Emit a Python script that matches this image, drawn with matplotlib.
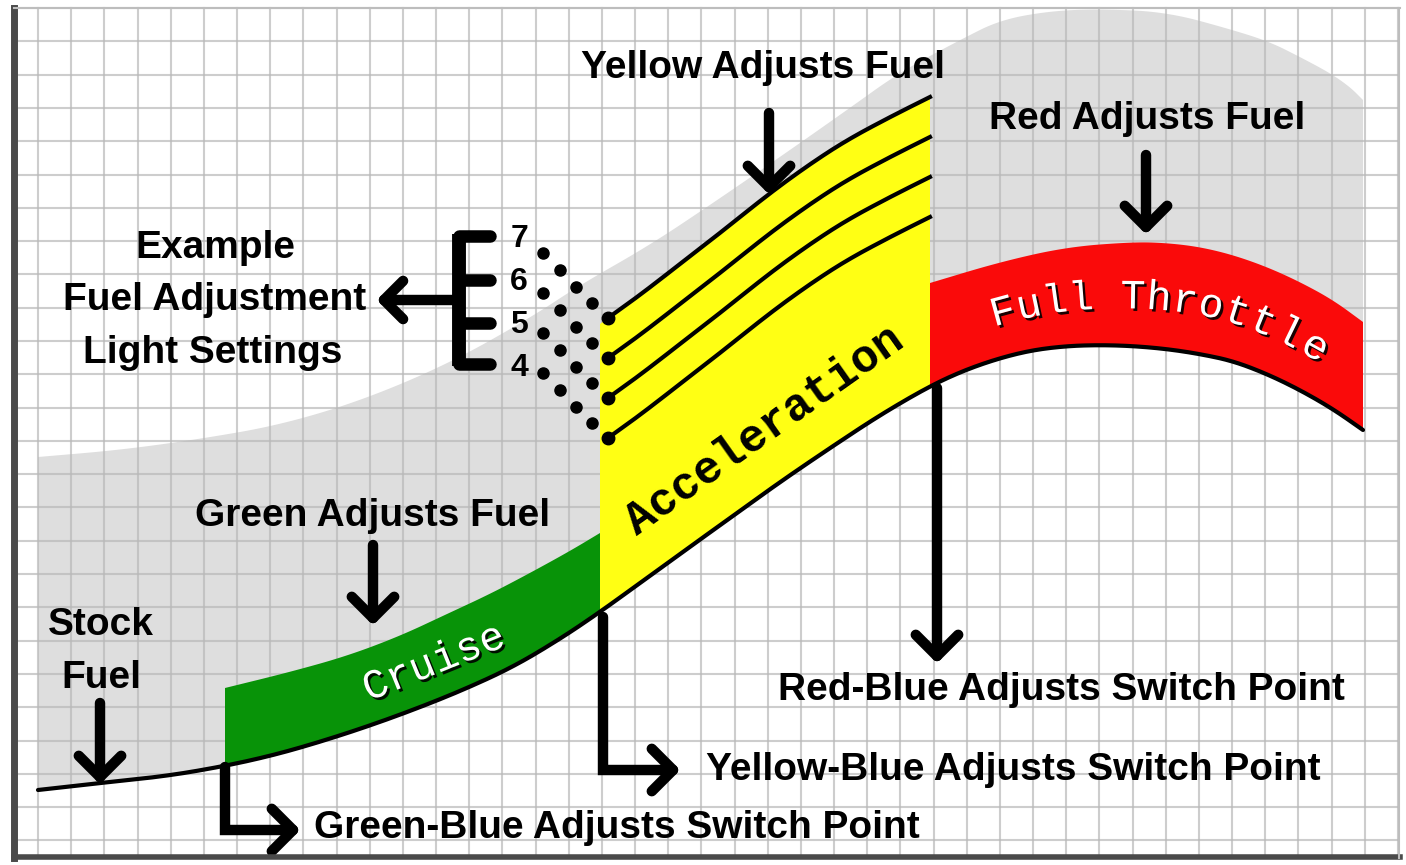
import numpy as np
import matplotlib.pyplot as plt
from matplotlib import patheffects as pe

# stock fuel curve (pixel coordinates, y grows downward)
curve_x = [38, 100, 167, 225, 270, 313, 363, 413, 463, 513, 560, 600, 640, 680, 730, 780,
           830, 880, 930, 965, 1000, 1033, 1067, 1100, 1133, 1167, 1200, 1233, 1267, 1300,
           1333, 1363]
curve_y = [790, 783, 776, 766, 756, 744, 728, 710, 690, 667, 639, 612, 583, 554, 518, 482,
           448, 415, 386, 370, 358, 350, 346, 345, 346, 349, 354, 361, 374, 390, 409, 430]

# top of the green (cruise) band
green_x = [225, 290, 347, 400, 447, 490, 530, 570, 600]
green_y = [688, 672, 656, 636, 614, 594, 573, 551, 533]

# top yellow line (setting 7); the other settings are shifted down
yellow_x = [608, 640, 680, 720, 770, 810, 847, 890, 930]
yellow_y = [318, 295, 264, 233, 193, 164, 140, 117, 97]
settings = ['7', '6', '5', '4']
setting_shift = [0, 40, 80, 120]

# top of the red (full throttle) band
red_x = [930, 1000, 1067, 1133, 1167, 1200, 1233, 1267, 1300, 1333, 1363]
red_y = [283, 262, 247, 242, 243, 247, 255, 267, 282, 300, 322]

# upper edge of the grey area
gray_x = [38, 120, 200, 280, 363, 450, 530, 580, 650, 713, 780, 847, 900, 960, 1000,
          1050, 1100, 1167, 1233, 1270, 1300, 1330, 1350, 1363]
gray_y = [457, 450, 439, 425, 400, 363, 318, 285, 245, 203, 157, 110, 72, 40, 20,
          11, 9, 12, 30, 42, 57, 73, 87, 100]

# dotted links from the numbers to the yellow lines
dot_x = [543, 560, 576, 592]
dot_dy = [0, 17, 34, 50]


def smooth(xs, ys, n=4):
    # corner cutting so the hand-read polylines draw as soft curves
    p = np.column_stack([xs, ys]).astype(float)
    for _ in range(n):
        q = 0.75 * p[:-1] + 0.25 * p[1:]
        r = 0.25 * p[:-1] + 0.75 * p[1:]
        new = np.empty((2 * len(q), 2))
        new[0::2] = q
        new[1::2] = r
        p = np.vstack([p[0], new, p[-1]])
    return p[:, 0], p[:, 1]


def seg(X, Y, x0, x1):
    m = (X > x0) & (X < x1)
    xs = [x0] + list(X[m]) + [x1]
    ys = [np.interp(x0, X, Y)] + list(Y[m]) + [np.interp(x1, X, Y)]
    return xs, ys


def arrow(xs, ys, arm=30, lw=7.5):
    ax.plot(xs, ys, color='k', lw=lw, solid_capstyle='round',
            solid_joinstyle='miter', zorder=7)
    dx, dy = xs[-1] - xs[-2], ys[-1] - ys[-2]
    n = np.hypot(dx, dy)
    dx, dy = dx / n, dy / n
    hx, hy = [], []
    for s in (1, -1):
        a = np.deg2rad(45 * s)
        rx = dx * np.cos(a) - dy * np.sin(a)
        ry = dx * np.sin(a) + dy * np.cos(a)
        hx.append(xs[-1] - arm * rx)
        hy.append(ys[-1] - arm * ry)
    ax.plot([hx[0], xs[-1], hx[1]], [hy[0], ys[-1], hy[1]], color='k', lw=lw,
            solid_capstyle='round', solid_joinstyle='round', zorder=7)


CX, CY = smooth(curve_x, curve_y)
GX, GY = smooth(green_x, green_y)
YX, YY = smooth(yellow_x, yellow_y)
RX, RY = smooth(red_x, red_y)
TX, TY = smooth(gray_x, gray_y)

fig = plt.figure(figsize=(14.06, 8.65), dpi=100)
ax = fig.add_axes([0, 0, 1, 1])
ax.set_xlim(0, 1406)
ax.set_ylim(865, 0)
ax.axis('off')

# grey area above the stock curve
sx, sy = seg(CX, CY, 38, 1363)
ax.fill(list(TX) + sx[::-1], list(TY) + sy[::-1], color='#dedede', lw=0, zorder=1)

# grid paper
for k in range(42):
    x = 38 + k * 33.17
    ax.plot([x, x], [8, 855], color='#b8b8b8', lw=1.5, alpha=0.7, zorder=2)
for k in range(26):
    y = 8 + k * 33.3
    ax.plot([17, 1398], [y, y], color='#b8b8b8', lw=1.5, alpha=0.7, zorder=2)

# frame
ax.plot([14, 14], [8, 858], color='#4a4a4a', lw=5, zorder=8)
ax.plot([14, 1400], [857, 857], color='#4a4a4a', lw=4, zorder=8)
ax.plot([14, 1400], [8, 8], color='#bdbdbd', lw=1.5, zorder=8)
ax.plot([1399, 1399], [8, 858], color='#bdbdbd', lw=1.5, zorder=8)

# coloured bands
bx, by = seg(CX, CY, 225, 600)
ax.fill(list(GX) + bx[::-1], list(GY) + by[::-1], color='#089308', lw=0, zorder=3)
bx, by = seg(CX, CY, 600, 930)
ax.fill([600] + list(YX) + bx[::-1], [324] + list(YY) + by[::-1],
        color='#ffff14', lw=0, zorder=3)
bx, by = seg(CX, CY, 930, 1363)
ax.fill(list(RX) + bx[::-1], list(RY) + by[::-1], color='#fa0a0a', lw=0, zorder=3)

# stock fuel curve
ax.plot(CX, CY, color='k', lw=3, solid_capstyle='round', zorder=5)

# fuel setting lines, dots and numbers
for i, lab in enumerate(settings):
    sh = setting_shift[i]
    ax.plot(YX, YY + sh, color='k', lw=3, zorder=5)
    ax.plot(YX[0], YY[0] + sh, 'o', color='k', ms=9, zorder=6)
    ax.plot(dot_x, [253 + sh + d for d in dot_dy], 'o', color='k', ms=8, lw=0, zorder=6)
    ax.text(519, 239 + sh * 1.075, lab, fontsize=23, fontweight='bold',
            family='Liberation Sans', ha='center', va='center', zorder=8)

# bracket "E"
ax.plot([459, 459], [234, 366], color='k', lw=10, solid_capstyle='butt', zorder=7)
for ty in [236, 280, 323, 364]:
    ax.plot([459, 490], [ty, ty], color='k', lw=9, solid_capstyle='round', zorder=7)
arrow([459, 384], [300, 300], arm=27)

# arrows
arrow([100, 100], [703, 777])
arrow([373, 373], [545, 618])
arrow([769, 769], [113, 187])
arrow([1146, 1146], [155, 227])
arrow([225, 225, 293], [767, 830, 830])
arrow([603, 603, 673], [617, 770, 770])
arrow([937, 937], [388, 656])

lab = dict(fontsize=28, fontweight='bold', family='Liberation Sans',
           ha='center', va='center', zorder=8)
ax.text(763, 68, 'Yellow Adjusts Fuel', **lab)
ax.text(1147, 119, 'Red Adjusts Fuel', **lab)
ax.text(373, 516, 'Green Adjusts Fuel', **lab)
ax.text(215, 248, 'Example', **lab)
ax.text(215, 300, 'Fuel Adjustment', **lab)
ax.text(213, 353, 'Light Settings', **lab)
ax.text(101, 625, 'Stock', **lab)
ax.text(101, 678, 'Fuel', **lab)
ax.text(1061, 690, 'Red-Blue Adjusts Switch Point', **lab)
ax.text(1013, 770, 'Yellow-Blue Adjusts Switch Point', **lab)
ax.text(617, 828, 'Green-Blue Adjusts Switch Point', **lab)

# band names
shadow = [pe.withSimplePatchShadow(offset=(1.8, -1.8), shadow_rgbFace='k', alpha=0.9)]
ax.text(765, 431, 'Acceleration', fontsize=33, fontweight='bold', family='Liberation Mono',
        rotation=35.3, rotation_mode='anchor', ha='center', va='center', zorder=8)
ax.text(434, 663, 'Cruise', fontsize=30, family='Liberation Mono', color='white',
        rotation=22, rotation_mode='anchor', ha='center', va='center', zorder=8,
        path_effects=shadow)

xx = np.arange(930, 1364)
mid = (np.interp(xx, RX, RY) + np.interp(xx, CX, CY)) / 2
slope = np.gradient(mid)
for i, ch in enumerate('Full Throttle'):
    x = 1003 + 26 * i
    j = int(x - 930)
    ang = np.degrees(np.arctan(-slope[j]))
    ax.text(x, mid[j] + 3, ch, fontsize=30, family='Liberation Mono', color='white',
            rotation=ang, rotation_mode='anchor', ha='center', va='center', zorder=8,
            path_effects=shadow)

fig.savefig('out.png', dpi=100)
